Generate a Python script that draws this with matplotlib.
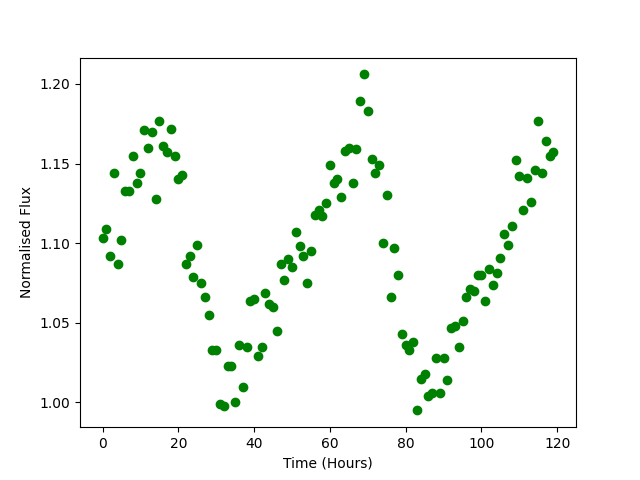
import numpy as np
import matplotlib
matplotlib.use("Agg")
import matplotlib.pyplot as plt

# hours since start
time = np.arange(120)

# normalised flux readings, one per hour
flux = [
    1.103, 1.109, 1.092, 1.144, 1.087, 1.102, 1.133, 1.133, 1.155, 1.138,
    1.144, 1.171, 1.160, 1.170, 1.128, 1.177, 1.161, 1.157, 1.172, 1.155,
    1.140, 1.143, 1.087, 1.092, 1.079, 1.099, 1.075, 1.066, 1.055, 1.033,
    1.033, 0.999, 0.998, 1.023, 1.023, 1.000, 1.036, 1.010, 1.035, 1.064,
    1.065, 1.029, 1.035, 1.069, 1.062, 1.060, 1.045, 1.087, 1.077, 1.090,
    1.085, 1.107, 1.098, 1.092, 1.075, 1.095, 1.118, 1.121, 1.117, 1.125,
    1.149, 1.138, 1.140, 1.129, 1.158, 1.160, 1.138, 1.159, 1.189, 1.206,
    1.183, 1.153, 1.144, 1.149, 1.100, 1.130, 1.066, 1.097, 1.080, 1.043,
    1.036, 1.033, 1.038, 0.995, 1.015, 1.018, 1.004, 1.006, 1.028, 1.006,
    1.028, 1.014, 1.047, 1.048, 1.035, 1.051, 1.066, 1.071, 1.070, 1.080,
    1.080, 1.064, 1.084, 1.074, 1.081, 1.091, 1.106, 1.099, 1.111, 1.152,
    1.142, 1.121, 1.141, 1.126, 1.146, 1.177, 1.144, 1.164, 1.155, 1.157,
]

plt.figure(figsize=(6.4, 4.8))
plt.plot(time, flux, 'go')
plt.xlabel("Time (Hours)")
plt.ylabel("Normalised Flux")
plt.savefig("out.png", dpi=100)
